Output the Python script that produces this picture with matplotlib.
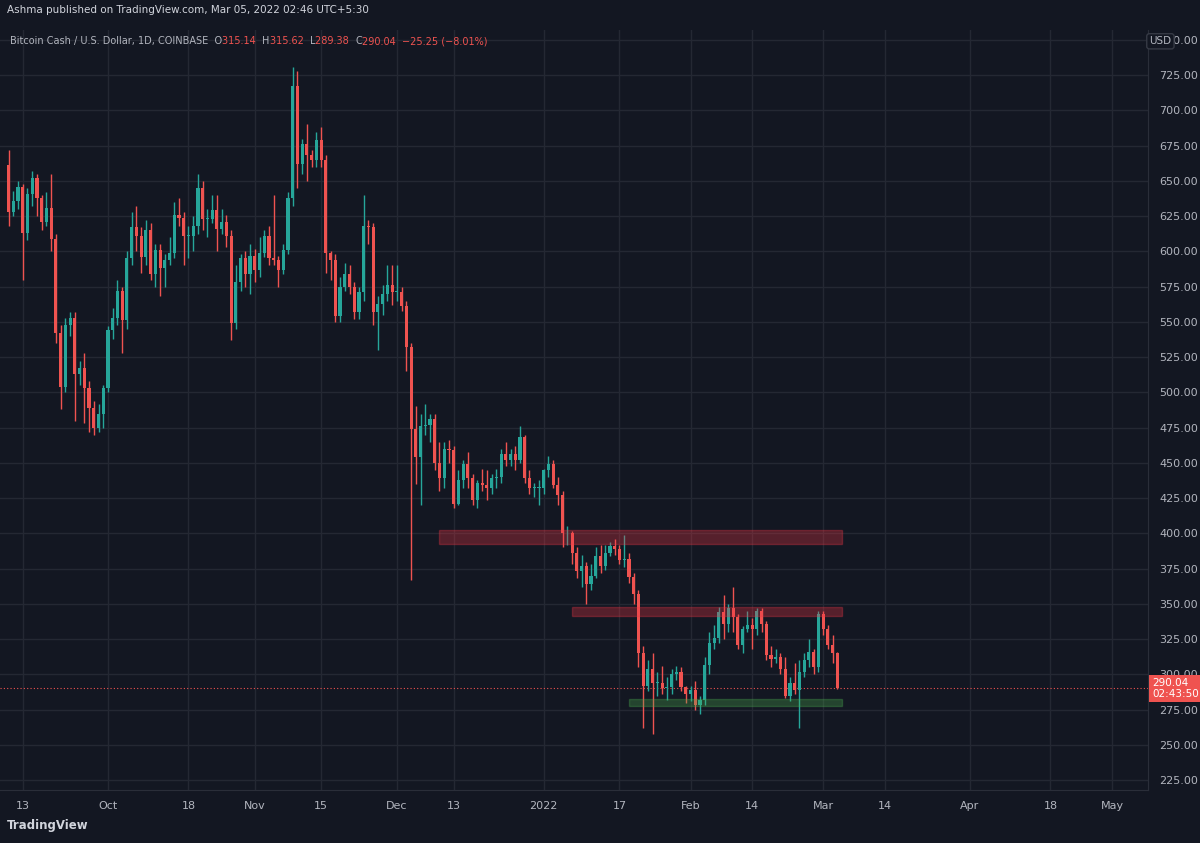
import datetime as dt

import matplotlib
matplotlib.use("Agg")
import matplotlib.pyplot as plt
import matplotlib.dates as mdates
from matplotlib.patches import Rectangle

# daily candles, Sep 10 2021 .. Mar 4 2022
start = dt.date(2021, 9, 10)
opens = [
    661, 628, 636, 646, 613, 641, 652, 638, 621, 631, 609, 542, 504, 548, 553, 513, 517, 503, 489, 475, 485,
    503, 544, 553, 572, 551, 595, 617, 611, 596, 615, 584, 601, 588, 594, 599, 626, 624, 611, 611, 618, 645,
    623, 623, 629, 616, 621, 611, 549, 578, 595, 584,
    597, 587, 599, 611, 595, 594, 587, 601, 638, 717, 662, 676, 668, 665, 679, 665, 599, 594, 554, 575, 584,
    575, 557, 571, 618, 617, 557, 563, 570, 576,
    571, 571, 561, 532, 474, 454, 476, 477, 481, 450, 439, 460, 459, 421, 438, 449, 439, 424, 436, 434, 432,
    439, 440, 456, 452, 456, 452, 468, 439, 432, 432,
    432, 445, 449, 434, 427, 400, 400, 386, 373, 377, 364, 370, 384, 377, 386, 391, 389, 381, 382, 369, 357,
    315, 292, 304, 294, 294, 290, 291, 300, 302, 291,
    286, 289, 278, 282, 307, 322, 326, 344, 336, 347, 341, 321, 332, 335, 332, 345, 336, 314, 311, 312, 304,
    285, 294, 289, 302, 310, 316, 305,
    343, 332, 321, 315.14,
]
closes = [
    628, 636, 646, 613, 641, 652, 638, 621, 631, 609, 542, 504, 548, 553, 513, 517, 503, 489, 475, 485, 503,
    544, 553, 572, 551, 595, 617, 611, 596, 615, 584, 601, 588, 594, 599, 626, 624, 611, 611, 618, 645, 623,
    623, 629, 616, 621, 611, 549, 578, 595, 584, 597,
    587, 599, 611, 595, 594, 587, 601, 638, 717, 662, 676, 668, 665, 679, 665, 599, 594, 554, 575, 584, 575,
    557, 571, 618, 617, 557, 563, 570, 576, 571,
    571, 561, 532, 474, 454, 476, 477, 481, 450, 439, 460, 459, 421, 438, 449, 439, 424, 436, 434, 432, 439,
    440, 456, 452, 456, 452, 468, 439, 432, 432, 432,
    445, 449, 434, 427, 400, 400, 386, 373, 377, 364, 370, 384, 377, 386, 391, 389, 381, 382, 369, 357, 315,
    292, 304, 294, 294, 290, 291, 300, 302, 291, 286,
    289, 278, 282, 307, 322, 326, 344, 336, 347, 341, 321, 332, 335, 332, 345, 336, 314, 311, 312, 304, 285,
    294, 289, 302, 310, 316, 305, 343,
    332, 321, 315, 290.04,
]
highs = [
    672, 643, 650, 648, 645, 657, 655, 640, 642, 655, 612, 548, 553, 557, 557, 522, 528, 508, 494, 492, 505,
    547, 560, 580, 575, 600, 628, 632, 617, 622, 620, 605, 605, 598, 610, 635, 638, 628, 618, 625, 655, 650,
    630, 640, 640, 630, 626, 615, 590, 598, 600, 605,
    602, 610, 615, 618, 640, 597, 605, 642, 731, 728, 680, 690, 672, 685, 688, 668, 600, 598, 582, 592, 590,
    578, 575, 640, 622, 620, 568, 576, 590, 590,
    590, 575, 565, 535, 490, 485, 492, 485, 485, 465, 465, 466, 462, 445, 452, 458, 442, 438, 446, 445, 442,
    446, 460, 465, 460, 462, 476, 470, 445, 436, 438,
    446, 455, 452, 440, 430, 405, 402, 390, 385, 380, 378, 390, 392, 392, 394, 396, 392, 399, 386, 372, 360,
    320, 310, 315, 302, 306, 298, 304, 306, 305, 292,
    292, 295, 285, 312, 330, 335, 348, 356, 350, 362, 343, 334, 345, 340, 347, 347, 338, 320, 318, 315, 312,
    298, 308, 310, 315, 325, 318, 345,
    345, 335, 328, 315.62,
]
lows = [
    618, 625, 630, 580, 608, 632, 625, 615, 618, 600, 535, 488, 500, 540, 480, 505, 478, 472, 470, 472, 475,
    500, 538, 548, 528, 545, 590, 600, 585, 590, 580, 575, 568, 575, 590, 595, 618, 590, 595, 600, 612, 615,
    610, 620, 600, 612, 603, 537, 545, 572, 575, 570,
    578, 582, 596, 590, 590, 575, 584, 598, 632, 645, 655, 650, 660, 660, 660, 585, 580, 550, 550, 572, 570,
    552, 552, 565, 605, 548, 530, 555, 565, 562,
    565, 558, 515, 367, 435, 420, 470, 465, 445, 430, 432, 450, 418, 420, 432, 432, 420, 418, 430, 424, 428,
    432, 436, 448, 448, 445, 450, 436, 428, 426, 420,
    428, 440, 432, 420, 390, 392, 378, 368, 362, 350, 360, 368, 372, 374, 384, 385, 378, 376, 365, 350, 305,
    262, 288, 258, 285, 286, 282, 286, 296, 288, 280,
    281, 275, 272, 278, 300, 318, 322, 325, 330, 330, 318, 315, 330, 318, 328, 330, 310, 305, 308, 300, 283,
    281, 286, 262, 298, 305, 300, 302,
    328, 318, 308, 289.38,
]
last_price = 290.04

# support / resistance zones: (start, end, low, high, colour)
zones = [
    (dt.date(2021, 12, 10), dt.date(2022, 3, 5), 392.5, 402.4, "#f23645"),
    (dt.date(2022, 1, 7), dt.date(2022, 3, 5), 341.4, 347.8, "#f23645"),
    (dt.date(2022, 1, 19), dt.date(2022, 3, 5), 277.6, 282.6, "#4caf50"),
]

tick_dates = [
    dt.date(2021, 9, 13), dt.date(2021, 10, 1), dt.date(2021, 10, 18), dt.date(2021, 11, 1),
    dt.date(2021, 11, 15), dt.date(2021, 12, 1), dt.date(2021, 12, 13), dt.date(2022, 1, 1),
    dt.date(2022, 1, 17), dt.date(2022, 2, 1), dt.date(2022, 2, 14), dt.date(2022, 3, 1),
    dt.date(2022, 3, 14), dt.date(2022, 4, 1), dt.date(2022, 4, 18), dt.date(2022, 5, 1),
]
tick_labels = ["13", "Oct", "18", "Nov", "15", "Dec", "13", "2022", "17", "Feb", "14", "Mar", "14", "Apr", "18", "May"]
y_ticks = list(range(225, 751, 25))

header = [
    ("Bitcoin Cash / U.S. Dollar, 1D, COINBASE  O", "#b2b5be"), ("315.14  ", "#ef5350"),
    ("H", "#b2b5be"), ("315.62  ", "#ef5350"), ("L", "#b2b5be"), ("289.38  ", "#ef5350"),
    ("C", "#b2b5be"), ("290.04  −25.25 (−8.01%)", "#ef5350"),
]

BG = "#131722"
GRID = "#242833"
UP = "#26a69a"
DOWN = "#ef5350"
TXT = "#b2b5be"

fig = plt.figure(figsize=(12, 8.43), dpi=100, facecolor=BG)
ax = fig.add_axes([0.0, 1 - 790 / 843, 1148 / 1200, 760 / 843])
ax.set_facecolor(BG)

x = [mdates.date2num(start + dt.timedelta(days=i)) for i in range(len(closes))]
for xi, o, h, l, c in zip(x, opens, highs, lows, closes):
    col = UP if c >= o else DOWN
    ax.vlines(xi, l, h, color=col, linewidth=1, zorder=3)
    ax.bar(xi, max(abs(c - o), 0.6), bottom=min(o, c), width=0.66, color=col, zorder=4, linewidth=0)

for s, e, lo, hi, col in zones:
    xs, xe = mdates.date2num(s), mdates.date2num(e)
    ax.add_patch(Rectangle((xs, lo), xe - xs, hi - lo, facecolor=col, alpha=0.3,
                           edgecolor=col, linewidth=1, zorder=5))

ax.axhline(last_price, color=DOWN, linestyle=(0, (1, 2)), linewidth=0.8, zorder=2)

ax.set_xlim(mdates.date2num(dt.date(2021, 9, 8)) + 0.2, mdates.date2num(dt.date(2022, 5, 8)) + 0.6)
ax.set_ylim(218, 757)
ax.set_xticks([mdates.date2num(d) for d in tick_dates])
ax.set_xticklabels(tick_labels)
ax.set_yticks(y_ticks)
ax.set_yticklabels([f"{v:.2f}" for v in y_ticks])
ax.yaxis.tick_right()
ax.grid(True, color=GRID, linewidth=1)
ax.tick_params(colors=TXT, labelsize=8, length=0, pad=8)
for side in ["top", "left"]:
    ax.spines[side].set_visible(False)
for side in ["bottom", "right"]:
    ax.spines[side].set_color("#2a2e39")

# price label on the right axis
ax.text(1.004, last_price, "290.04\n02:43:50", transform=ax.get_yaxis_transform(), color="white",
        fontsize=7.5, va="center", ha="left", linespacing=1.1,
        bbox=dict(boxstyle="square,pad=0.3", facecolor=DOWN, edgecolor="none"), zorder=10)

fig.text(0.006, 0.988, "Ashma published on TradingView.com, Mar 05, 2022 02:46 UTC+5:30",
         color="#d1d4dc", fontsize=7.5, va="center", ha="left")

# legend line, pieces laid out one after another
renderer = fig.canvas.get_renderer()
xpos = 10
for s, col in header:
    t = fig.text(xpos / 1200, 0.951, s, color=col, fontsize=7, va="center", ha="left")
    xpos += t.get_window_extent(renderer).width

fig.text(0.967, 0.951, "USD", color=TXT, fontsize=7.5, va="center", ha="center",
         bbox=dict(boxstyle="round,pad=0.25", facecolor=BG, edgecolor="#363a45"))
fig.text(0.006, 0.021, "TradingView", color="#d1d4dc", fontsize=8.5, va="center", ha="left", weight="bold")

fig.savefig("out.png", dpi=100, facecolor=BG)
